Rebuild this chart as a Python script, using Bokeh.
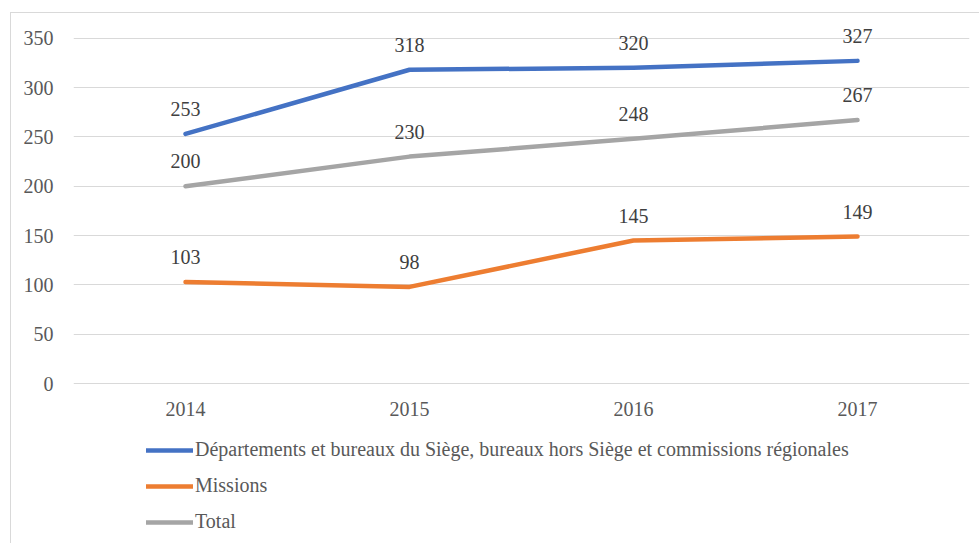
from bokeh.plotting import figure
from bokeh.models import Legend, LegendItem, ColumnDataSource, FixedTicker
from bokeh.core.properties import value
from bokeh.embed import file_html
from bokeh.resources import INLINE

years = ["2014", "2015", "2016", "2017"]
dept = [253, 318, 320, 327]
missions = [103, 98, 145, 149]
total = [200, 230, 248, 267]
yticks = [0, 50, 100, 150, 200, 250, 300, 350]
names = ["Départements et bureaux du Siège, bureaux hors Siège et commissions régionales",
         "Missions", "Total"]
colors = ["#4472C4", "#ED7D31", "#A5A5A5"]

FONT = "Times New Roman"
FS = "20px"

p = figure(x_range=years, y_range=(-163, 375), width=969, height=531,
           output_backend="svg", toolbar_location=None,
           min_border_left=62, min_border_right=11, min_border_top=0, min_border_bottom=0)
p.margin = (12, 0, 0, 10)
p.styles = {"border-left": "1px solid #d9d9d9", "border-top": "1px solid #d9d9d9"}
p.outline_line_color = None
p.background_fill_color = "white"
p.border_fill_color = "white"

p.xaxis.visible = False
p.xgrid.grid_line_color = None
p.ygrid.grid_line_color = "#d9d9d9"
p.ygrid.grid_line_width = 1
p.yaxis.ticker = FixedTicker(ticks=yticks)
p.yaxis.axis_line_color = None
p.yaxis.major_tick_line_color = None
p.yaxis.minor_tick_line_color = None
p.yaxis.major_label_text_font = FONT
p.yaxis.major_label_text_font_size = FS
p.yaxis.major_label_text_color = "#595959"
p.yaxis.major_label_standoff = 14

# category labels under the zero line
p.text(x=years, y=[-26] * len(years), text=years, text_font=value(FONT), text_font_size=FS,
       text_color="#595959", text_align="center", text_baseline="middle")

renderers = []
for vals, col in zip([dept, missions, total], colors):
    src = ColumnDataSource(dict(x=years, y=vals, lab=[str(v) for v in vals]))
    r = p.line("x", "y", source=src, line_color=col, line_width=4.5, line_cap="round", line_join="round")
    renderers.append(r)
    p.text("x", "y", text="lab", source=src, text_font=value(FONT), text_font_size=FS,
           text_color="#404040", text_align="center", text_baseline="middle", y_offset=-25)

legend = Legend(items=[LegendItem(label=n, renderers=[r]) for n, r in zip(names, renderers)],
                location=(73, 11), orientation="vertical",
                label_text_font=FONT, label_text_font_size=FS, label_text_color="#595959",
                glyph_width=47, glyph_height=20, label_standoff=2, spacing=13,
                border_line_color=None, background_fill_alpha=0, padding=0, margin=0)
p.add_layout(legend)

open("out.html", "w").write(file_html(p, INLINE))
